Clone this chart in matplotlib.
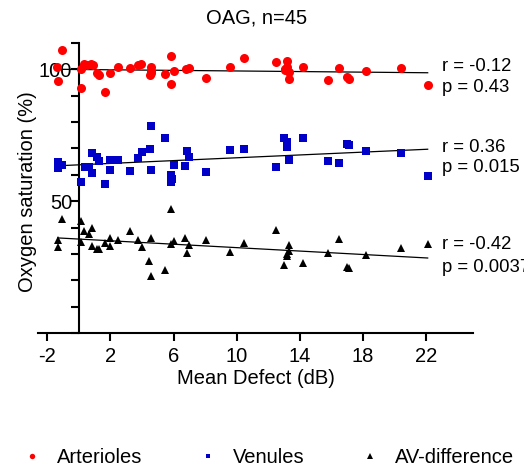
import matplotlib
matplotlib.use('Agg')
import matplotlib.pyplot as plt
import numpy as np

# Mean defect (dB) and oxygen saturation (%) per vessel type
art_md = [-1.07, -1.38, -1.34, 0.14, 0.31, 0.14, 0.77, 0.88, 1.16, 1.28, 1.66, 1.94,
          2.46, 3.25, 3.76, 3.93, 4.58, 4.50, 4.58, 5.47, 5.87, 5.87, 6.06, 6.80,
          6.97, 8.08, 9.58, 10.47, 12.48, 13.22, 13.05, 13.22, 13.32, 13.32, 14.19,
          15.80, 16.50, 16.98, 17.13, 18.21, 20.43, 22.13, 0.50, 13.10, 4.60]
art_sat = [107.4, 100.9, 95.7, 100.0, 101.9, 92.9, 102.0, 101.5, 98.7, 97.7, 91.5, 98.7,
           101.0, 100.5, 101.8, 101.9, 100.8, 97.7, 98.7, 98.2, 105.0, 94.5, 99.4, 100.3,
           100.5, 96.6, 101.0, 104.5, 102.7, 103.2, 100.0, 101.0, 99.1, 96.4, 100.8,
           96.0, 100.4, 97.2, 96.4, 99.4, 100.6, 93.9, 101.5, 99.8, 99.5]

ven_md = [-1.35, -1.35, -1.05, 0.14, 0.37, 0.62, 0.84, 1.16, 1.26, 0.84, 1.66, 1.96,
          1.96, 2.46, 3.27, 3.76, 3.97, 4.48, 4.58, 4.58, 5.47, 5.87, 5.87, 6.06,
          6.87, 6.97, 6.76, 8.08, 9.58, 10.47, 12.48, 13.00, 13.22, 13.22, 13.32,
          14.19, 15.80, 16.50, 16.98, 17.13, 18.21, 20.43, 22.13, 0.50, 5.90]
ven_sat = [64.9, 62.4, 63.7, 57.3, 63.0, 63.0, 68.4, 66.7, 65.2, 60.6, 56.5, 65.6,
           61.7, 65.5, 61.4, 66.2, 68.7, 69.8, 78.4, 62.0, 73.9, 59.8, 57.3, 63.9,
           69.1, 66.7, 63.4, 60.9, 69.4, 69.8, 63.0, 73.9, 72.6, 70.7, 65.6,
           73.9, 65.2, 64.5, 71.8, 71.3, 69.1, 68.1, 59.4, 63.0, 58.5]

av_md = [-1.07, -1.35, -1.35, 0.14, 0.14, 0.35, 0.62, 0.84, 0.84, 1.16, 1.28, 1.66,
         1.94, 1.94, 2.46, 3.25, 3.76, 3.97, 4.58, 4.43, 4.58, 5.47, 5.87, 5.87,
         6.06, 6.76, 6.97, 6.87, 8.08, 9.58, 10.47, 12.48, 13.32, 13.22, 13.22,
         13.00, 14.19, 15.80, 16.50, 16.98, 17.13, 18.21, 20.43, 22.13, 13.30]
av_sat = [43.3, 35.3, 32.7, 42.4, 34.7, 38.5, 37.5, 39.9, 33.0, 32.0, 31.8, 34.3,
          36.2, 33.0, 35.1, 38.8, 35.3, 32.6, 36.0, 27.3, 21.8, 23.9, 47.1, 33.9,
          34.8, 36.2, 33.3, 30.3, 35.1, 30.8, 34.1, 39.2, 33.3, 29.9, 29.2,
          25.8, 26.4, 30.5, 35.6, 25.1, 24.6, 29.7, 32.2, 33.9, 31.0]

r_labels = ["r = -0.12", "r = 0.36", "r = -0.42"]
p_labels = ["p = 0.43", "p = 0.015", "p = 0.0037"]

plt.rcParams['font.family'] = ['Liberation Sans', 'DejaVu Sans']
plt.rcParams['axes.unicode_minus'] = False
FS = 14.5

fig = plt.figure(figsize=(5.24, 4.70), dpi=100)
ax = fig.add_axes([0.0725, 0.2915, 0.83, 0.617])

series = [
    (art_md, art_sat, 'o', '#FF0000', 6.5, 'Arterioles'),
    (ven_md, ven_sat, 's', '#0000C8', 5.8, 'Venules'),
    (av_md, av_sat, '^', 'black', 6.3, 'AV-difference'),
]
# vertical placement of the r / p annotations (data units)
r_pos = [101.1, 70.5, 33.4]
p_pos = [93.1, 62.9, 25.0]

for i, (md, sat, mk, col, ms, lab) in enumerate(series):
    md = np.array(md)
    sat = np.array(sat)
    ax.plot(md, sat, linestyle='none', marker=mk, color=col, markersize=ms,
            markeredgewidth=0, label=lab, clip_on=False, zorder=3)
    # least squares regression line over the data range
    slope, icpt = np.polyfit(md, sat, 1)
    xs = np.array([md.min(), md.max()])
    ax.plot(xs, icpt + slope * xs, color='black', linewidth=0.9, zorder=2)
    ax.text(23.05, r_pos[i], r_labels[i], fontsize=13.3, va='center', ha='left', clip_on=False)
    ax.text(23.05, p_pos[i], p_labels[i], fontsize=13.3, va='center', ha='left', clip_on=False)

ax.set_xlim(-2.6, 25)
ax.set_ylim(0, 110)
ax.spines['left'].set_position(('data', 0))
ax.spines['top'].set_visible(False)
ax.spines['right'].set_visible(False)
ax.spines['left'].set_linewidth(1.5)
ax.spines['bottom'].set_linewidth(1.5)

ax.set_xticks([-2, 2, 6, 10, 14, 18, 22])
ax.set_yticks(np.arange(0, 111, 10))
ax.set_yticklabels(['' if v not in (50, 100) else str(v) for v in range(0, 111, 10)])
ax.tick_params(axis='both', direction='out', length=6, width=1.5, labelsize=FS)
ax.tick_params(axis='y', pad=-1)
ax.tick_params(axis='x', pad=4)

ax.set_xlabel('Mean Defect (dB)', fontsize=FS, labelpad=2)
fig.text(0.052, 0.592, 'Oxygen saturation (%)', rotation=90, fontsize=FS,
         ha='center', va='center')
fig.text(0.489, 0.962, 'OAG, n=45', fontsize=FS, ha='center', va='center')

handles, labels = ax.get_legend_handles_labels()
leg = fig.legend(handles, labels, loc='center left', bbox_to_anchor=(0.041, 0.026), ncol=3,
                 frameon=False, fontsize=FS, markerscale=0.6, handletextpad=0.75,
                 columnspacing=2.75, handlelength=1.0, borderpad=0, borderaxespad=0)

fig.savefig('out.png', dpi=100, facecolor='white')
